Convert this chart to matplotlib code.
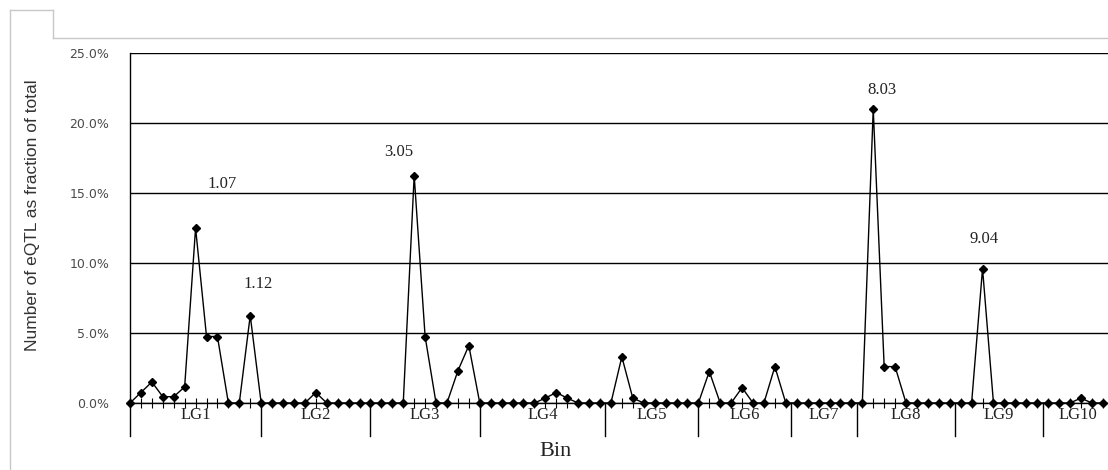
import numpy as np
import matplotlib
matplotlib.use("Agg")
import matplotlib.pyplot as plt
from matplotlib.lines import Line2D
from matplotlib.ticker import FuncFormatter

# eQTL share per bin (percent of total), bins ordered along linkage groups
values = [
    0, 0.75, 1.5, 0.45, 0.45, 1.15, 12.5, 4.75, 4.75, 0, 0, 6.25,        # LG1
    0, 0, 0, 0, 0, 0.75, 0, 0, 0, 0,                                    # LG2
    0, 0, 0, 0, 16.25, 4.75, 0, 0, 2.3, 4.1,                            # LG3
    0, 0, 0, 0, 0, 0, 0.35, 0.75, 0.35, 0, 0,                           # LG4
    0, 0, 3.3, 0.35, 0, 0, 0, 0, 0,                                     # LG5
    0, 2.25, 0, 0, 1.1, 0, 0, 2.6,                                      # LG6
    0, 0, 0, 0, 0, 0,                                                   # LG7
    0, 0, 21.0, 2.6, 2.6, 0, 0, 0, 0,                                   # LG8
    0, 0, 0, 9.6, 0, 0, 0, 0,                                           # LG9
    0, 0, 0, 0, 0.35, 0, 0,                                             # LG10
]
groups = ["LG1", "LG2", "LG3", "LG4", "LG5", "LG6", "LG7", "LG8", "LG9", "LG10"]
group_edges = [0, 12, 22, 32, 43.5, 52, 60.5, 66.5, 75.5, 83.5, 90]

# labelled peaks: bin index, label, text offset (points)
peak_bins = [6, 11, 26, 68, 78]
peak_labels = ["1.07", "1.12", "3.05", "8.03", "9.04"]
peak_offsets = [(19, 32), (6, 23), (-11, 17), (6, 14), (1, 21)]

bins = np.arange(len(values))

fig = plt.figure(figsize=(11.08, 4.70), dpi=100)
ax = fig.add_axes([130 / 1108, 67 / 470, 978 / 1108, 350 / 470])

ax.plot(bins, values, color="black", lw=1.0, marker="D", ms=4.2,
        mfc="black", mec="black", clip_on=False, zorder=3)

ax.set_xlim(0, 978 / 10.93)
ax.set_ylim(0, 25)
ax.set_yticks(np.arange(0, 26, 5))
ax.yaxis.set_major_formatter(FuncFormatter(lambda v, p: f"{v:.1f}%"))
ax.grid(axis="y", color="black", lw=1.0)
ax.set_axisbelow(True)
for s in ["top", "right"]:
    ax.spines[s].set_visible(False)
ax.spines["left"].set_linewidth(1.0)
ax.spines["bottom"].set_linewidth(1.0)

ax.tick_params(axis="y", length=0, pad=15, labelsize=9, labelcolor="#4a4a4a")
for lab in ax.get_yticklabels():
    lab.set_family("DejaVu Sans")
ax.set_xticks(bins)
ax.set_xticklabels([])
ax.tick_params(axis="x", direction="inout", length=7, width=0.8, color="black")

# group separators and labels under the axis
trans = ax.get_xaxis_transform()
for e in group_edges[:-1]:
    ax.add_line(Line2D([e, e], [0, -0.095], transform=trans, color="black",
                       lw=1.0, clip_on=False))
for g, a, b in zip(groups, group_edges[:-1], group_edges[1:]):
    ax.text((a + b) / 2, -0.035, g, transform=trans, ha="center", va="center",
            family="Liberation Serif", fontsize=12, color="#222222")

for b, lab, off in zip(peak_bins, peak_labels, peak_offsets):
    ax.annotate(lab, xy=(b, values[b]), xytext=off, textcoords="offset points",
                ha="center", va="center", family="Liberation Serif",
                fontsize=12, color="#222222")

fig.text(555 / 1108, 1 - 451 / 470, "Bin", ha="center", va="center",
         family="Liberation Serif", fontsize=16, color="#222222")
fig.text(33 / 1108, 1 - 215 / 470, "Number of eQTL as fraction of total",
         rotation=90, ha="center", va="center", family="Liberation Sans",
         fontsize=12.5, color="#333333")

# light frame at the top left of the picture
frame = dict(color="#c8c8c8", lw=1.0, transform=fig.transFigure)
W, H = 1108, 470
fig.add_artist(Line2D([10 / W, 53 / W], [1 - 10 / H, 1 - 10 / H], **frame))
fig.add_artist(Line2D([53 / W, 53 / W], [1 - 10 / H, 1 - 38 / H], **frame))
fig.add_artist(Line2D([53 / W, 1], [1 - 38 / H, 1 - 38 / H], **frame))
fig.add_artist(Line2D([10 / W, 10 / W], [1 - 10 / H, 0], **frame))

fig.savefig("out.png", dpi=100)
